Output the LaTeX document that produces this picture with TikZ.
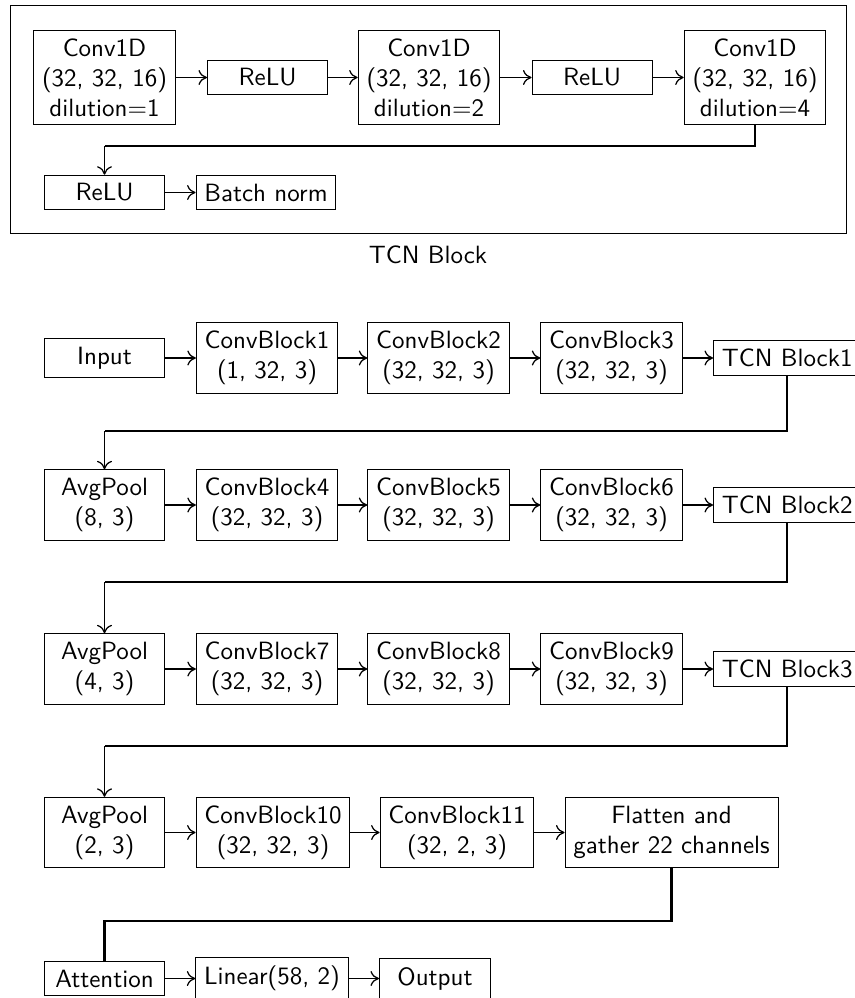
\documentclass[tikz,border=0pt]{standalone}
\usetikzlibrary{arrows.meta}
\begin{document}
\begin{tikzpicture}[x=0.4pt,y=-0.4pt,font=\sffamily,
  box/.style={draw,align=center,inner sep=0.3333em},
  wbox/.style={box,minimum width=48pt},
  flow/.style={-{Computer Modern Rightarrow[length=3.4pt,width=6pt]},line width=0.5pt},
  link/.style={line width=1pt},
  tlink/.style={line width=0.6pt}]
\useasboundingbox (0,0) rectangle (854,998);

% ---------- TCN block detail ----------
\draw (10,6) rectangle (846,234);
\node[box]  (conva) at (104.5,77.5) {Conv1D\\(32, 32, 16)\\dilution$=$1};
\node[wbox] (relua) at (267.5,77.5) {ReLU};
\node[box]  (convb) at (429,77.5)   {Conv1D\\(32, 32, 16)\\dilution$=$2};
\node[wbox] (relub) at (592,77.5)   {ReLU};
\node[box]  (convc) at (755,77.5)   {Conv1D\\(32, 32, 16)\\dilution$=$4};
\node[wbox] (reluc) at (104.5,192.5) {ReLU};
\node[box]  (bn)    at (266,192.5)  {Batch norm};
\node (tcnlabel) at (428,255) {TCN Block};

\draw[flow] (conva) -- (relua);
\draw[flow] (relua) -- (convb);
\draw[flow] (convb) -- (relub);
\draw[flow] (relub) -- (convc);
\coordinate (ta) at (104.5,146);
\draw[tlink] (convc.south) |- (ta);
\draw[flow] (ta) -- (reluc.north);
\draw[flow] (reluc) -- (bn);

% ---------- network ----------
% row 1
\node[wbox] (inp) at (104.5,358) {Input};
\node[box] (cb1) at (267,358)   {ConvBlock1\\(1, 32, 3)};
\node[box] (cb2) at (438.5,358) {ConvBlock2\\(32, 32, 3)};
\node[box] (cb3) at (611.5,358) {ConvBlock3\\(32, 32, 3)};
\node[box,anchor=west] (tcn1) at (713,358) {TCN Block1};
% row 2
\node[wbox] (avg1) at (104.5,505) {AvgPool\\(8, 3)};
\node[box] (cb4) at (267,505)   {ConvBlock4\\(32, 32, 3)};
\node[box] (cb5) at (438.5,505) {ConvBlock5\\(32, 32, 3)};
\node[box] (cb6) at (611.5,505) {ConvBlock6\\(32, 32, 3)};
\node[box,anchor=west] (tcn2) at (713,505) {TCN Block2};
% row 3
\node[wbox] (avg2) at (104.5,669) {AvgPool\\(4, 3)};
\node[box] (cb7) at (267,669)   {ConvBlock7\\(32, 32, 3)};
\node[box] (cb8) at (438.5,669) {ConvBlock8\\(32, 32, 3)};
\node[box] (cb9) at (611.5,669) {ConvBlock9\\(32, 32, 3)};
\node[box,anchor=west] (tcn3) at (713,669) {TCN Block3};
% row 4
\node[wbox] (avg3) at (104.5,832.5) {AvgPool\\(2, 3)};
\node[box] (cb10) at (273,832.5) {ConvBlock10\\(32, 32, 3)};
\node[box] (cb11) at (457,832.5) {ConvBlock11\\(32, 2, 3)};
\node[box] (flat) at (671.5,832.5) {Flatten and\\gather 22 channels};
% row 5
\node[wbox] (att) at (104.5,978.5) {Attention};
\node[box] (lin) at (272,978.5) {Linear(58, 2)};
\node[box,minimum width=44.4pt] (out) at (435,978.5) {Output};

% horizontal flow
\draw[flow] (inp) -- (cb1);
\draw[flow] (cb1) -- (cb2);
\draw[flow] (cb2) -- (cb3);
\draw[flow] (cb3) -- (tcn1);
\draw[flow] (avg1) -- (cb4);
\draw[flow] (cb4) -- (cb5);
\draw[flow] (cb5) -- (cb6);
\draw[flow] (cb6) -- (tcn2);
\draw[flow] (avg2) -- (cb7);
\draw[flow] (cb7) -- (cb8);
\draw[flow] (cb8) -- (cb9);
\draw[flow] (cb9) -- (tcn3);
\draw[flow] (avg3) -- (cb10);
\draw[flow] (cb10) -- (cb11);
\draw[flow] (cb11) -- (flat);
\draw[flow] (att) -- (lin);
\draw[flow] (lin) -- (out);

% row-to-row links
\coordinate (r1) at (104.5,431);
\draw[link] (tcn1.south) |- (r1);
\draw[flow] (r1) -- (avg1.north);
\coordinate (r2) at (104.5,582);
\draw[link] (tcn2.south) |- (r2);
\draw[flow] (r2) -- (avg2.north);
\coordinate (r3) at (104.5,746);
\draw[link] (tcn3.south) |- (r3);
\draw[flow] (r3) -- (avg3.north);
\coordinate (r4) at (104.5,921);
\draw[link] (flat.south) |- (r4) -- (att.north);
\end{tikzpicture}
\end{document}
